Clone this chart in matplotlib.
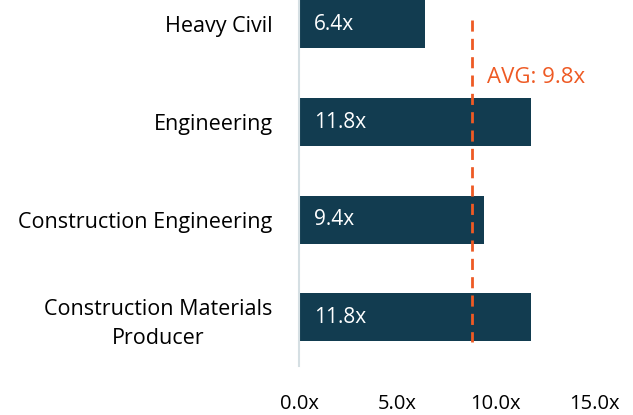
import matplotlib
matplotlib.use("Agg")
import matplotlib.pyplot as plt

categories = ["Heavy Civil", "Engineering", "Construction Engineering", "Construction Materials\nProducer"]
values = [6.4, 11.8, 9.4, 11.8]
avg_pos = 8.8
avg_label = "AVG: 9.8x"
xticks = [0, 5, 10, 15]
xtick_labels = ["0.0x", "5.0x", "10.0x", "15.0x"]

plt.rcParams['font.family'] = ['Open Sans', 'DejaVu Sans']
W, H = 633, 415
fig = plt.figure(figsize=(W/100, H/100), dpi=100)
ax = fig.add_axes([299/W, (H-366)/H, 295/W, 366/H])

bar_color = "#123c50"
orange = "#ee5a24"
y = list(range(len(categories)))
ax.barh(y, values, height=0.49, color=bar_color, zorder=2)
for yi, v in zip(y, values):
    ax.text(0.75, yi, f"{v:.1f}x", color="white", va="center", ha="left", fontsize=15, zorder=4)

ax.plot([avg_pos, avg_pos], [-0.05, 3.25], color=orange, linestyle=(0, (4, 2.6)), linewidth=2, zorder=3)
ax.text(avg_pos + 0.75, 0.54, avg_label, color=orange, fontsize=16, va="center", ha="left")

ax.set_xlim(0, 15)
ax.set_ylim(3.5, -0.25)
ax.set_yticks(y)
ax.set_yticklabels(categories, fontsize=15.5, linespacing=1.5)
ax.set_xticks(xticks)
ax.set_xticklabels(xtick_labels, fontsize=14.5)
for s in ["top", "right", "bottom"]:
    ax.spines[s].set_visible(False)
ax.spines["left"].set_color("#d5dfe3")
ax.spines["left"].set_linewidth(1.5)
ax.tick_params(axis="both", length=0)
ax.tick_params(axis="y", pad=19)
ax.tick_params(axis="x", pad=20)
for lab in ax.get_yticklabels():
    lab.set_multialignment("center")

fig.savefig("out.png", dpi=100)
